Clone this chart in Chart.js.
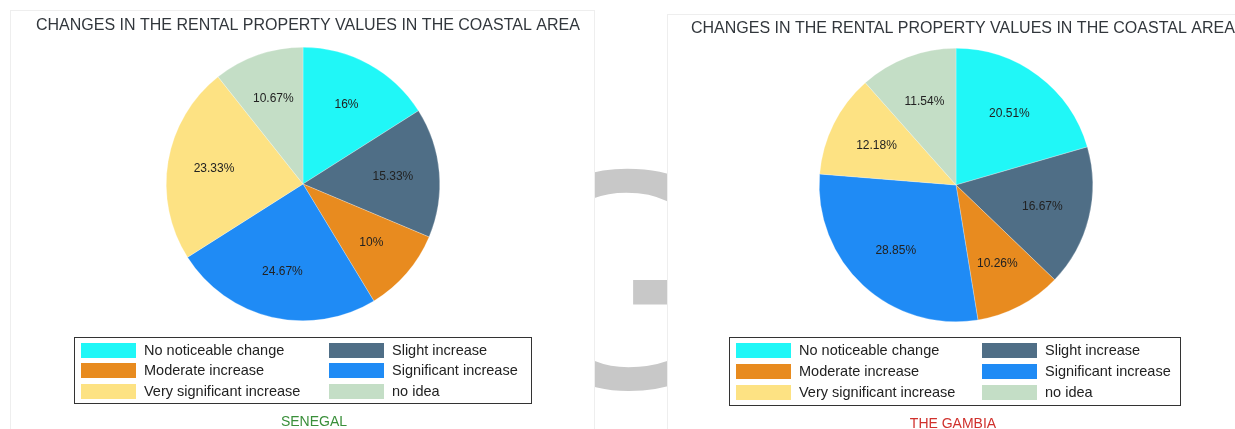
<!DOCTYPE html>
<html>
<head>
<meta charset="utf-8">
<script src="https://cdn.jsdelivr.net/npm/chart.js@4/dist/chart.umd.min.js"></script>
<style>
  html, body { margin: 0; padding: 0; background: #fff; }
  body { width: 1235px; height: 429px; position: relative; overflow: hidden; }
  .mark {
    position: absolute; left: 476px; top: 123px; width: 300px;
    font: 314px/314px "Liberation Sans", Arial, sans-serif;
    color: #c8c8c8; text-align: center;
  }
  .panel { position: absolute; background: #fff; border: 1px solid #eeeeee; }
  #panel-left { left: 10px; top: 10px; width: 583px; height: 430px; }
  #panel-right { left: 667px; top: 14px; width: 580px; height: 430px; }
  canvas { position: absolute; left: 0; top: 0; }
</style>
</head>
<body>
<div class="mark">G</div>
<div class="panel" id="panel-left"></div>
<div class="panel" id="panel-right"></div>
<canvas id="senegal" width="1235" height="429"></canvas>
<canvas id="gambia" width="1235" height="429"></canvas>
<script>
const chartTitle = "CHANGES IN THE RENTAL PROPERTY VALUES IN THE COASTAL AREA";
const categories = [
  "No noticeable change",
  "Slight increase",
  "Moderate increase",
  "Significant increase",
  "Very significant increase",
  "no idea",
];
const senegalValues = [16, 15.33, 10, 24.67, 23.33, 10.67];
const gambiaValues = [20.51, 16.67, 10.26, 28.85, 12.18, 11.54];
const sliceColors = ["#20f7f7", "#4f6e86", "#e88b1f", "#1f8bf5", "#fde283", "#c4dec6"];

const FONT = '"Liberation Sans", Arial, sans-serif';

// title, slice percentages, boxed two-column legend and country caption
const decor = {
  id: "decor",
  afterDatasetsDraw(chart, args, opts) {
    const ctx = chart.ctx;
    const values = chart.data.datasets[0].data;
    const colors = chart.data.datasets[0].backgroundColor;
    ctx.save();

    ctx.font = `12px ${FONT}`;
    ctx.fillStyle = "#222";
    ctx.textAlign = "center";
    ctx.textBaseline = "middle";
    chart.getDatasetMeta(0).data.forEach((arc, i) => {
      const p = arc.getProps(["x", "y", "startAngle", "endAngle", "outerRadius"], true);
      const mid = (p.startAngle + p.endAngle) / 2;
      const r = p.outerRadius * opts.labelRadius;
      ctx.fillText(values[i] + "%", p.x + Math.cos(mid) * r, p.y + Math.sin(mid) * r);
    });

    ctx.font = `16px ${FONT}`;
    ctx.fillStyle = "#32373c";
    ctx.textAlign = "left";
    ctx.textBaseline = "alphabetic";
    ctx.fillText(opts.title, opts.titleX, opts.titleY);

    const lg = opts.legend;
    ctx.strokeStyle = "#333";
    ctx.lineWidth = 1;
    ctx.strokeRect(lg.x + 0.5, lg.y + 0.5, lg.w, lg.h);
    ctx.font = `14.5px ${FONT}`;
    ctx.textBaseline = "middle";
    chart.data.labels.forEach((label, i) => {
      const col = i % 2, row = Math.floor(i / 2);
      const sx = lg.x + lg.swatchX[col];
      const sy = lg.y + lg.rowY[row];
      ctx.fillStyle = colors[i];
      ctx.fillRect(sx, sy, 55, 15);
      ctx.fillStyle = "#222";
      ctx.fillText(label, sx + 63, sy + 8);
    });

    ctx.font = `14px ${FONT}`;
    ctx.fillStyle = opts.captionColor;
    ctx.textAlign = "center";
    ctx.textBaseline = "alphabetic";
    ctx.fillText(opts.caption, opts.captionX, opts.captionY);
    ctx.restore();
  },
};

function makePie(id, values, padding, decorOpts) {
  return new Chart(document.getElementById(id), {
    type: "pie",
    plugins: [decor],
    data: {
      labels: categories,
      datasets: [{
        data: values,
        backgroundColor: sliceColors,
        borderColor: "rgba(255,255,255,0.5)",
        borderWidth: 0.5,
      }],
    },
    options: {
      responsive: false,
      animation: false,
      events: [],
      layout: { padding },
      plugins: {
        legend: { display: false },
        tooltip: { enabled: false },
        decor: decorOpts,
      },
    },
  });
}

makePie("senegal", senegalValues,
  { left: 166, right: 795, top: 47, bottom: 108 },
  {
    labelRadius: 0.66,
    title: chartTitle, titleX: 36, titleY: 30,
    legend: { x: 74, y: 337, w: 457, h: 66, swatchX: [7, 255], rowY: [6, 26, 47] },
    caption: "SENEGAL", captionColor: "#3a8f3a", captionX: 314, captionY: 426,
  });

makePie("gambia", gambiaValues,
  { left: 819, right: 142, top: 48, bottom: 107 },
  {
    labelRadius: 0.65,
    title: chartTitle, titleX: 691, titleY: 33,
    legend: { x: 729, y: 337, w: 451, h: 68, swatchX: [7, 253], rowY: [6, 27, 48] },
    caption: "THE GAMBIA", captionColor: "#d0312d", captionX: 953, captionY: 428,
  });
</script>
</body>
</html>
